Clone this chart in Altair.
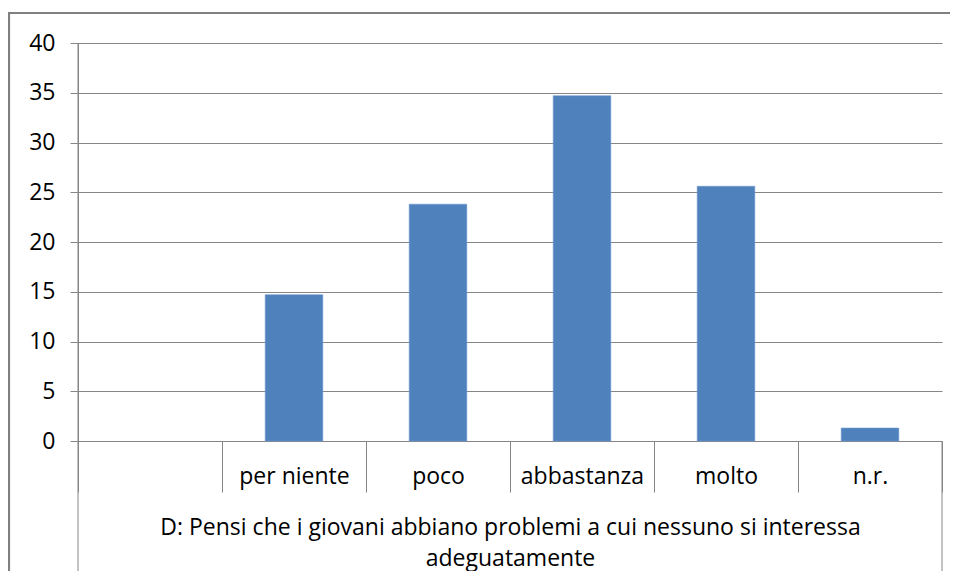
import altair as alt
import pandas as pd

# ---- data ----
categories = ["", "per niente", "poco", "abbastanza", "molto", "n.r."]
values = [None, 14.7, 23.8, 34.7, 25.6, 1.3]
y_ticks = [0, 5, 10, 15, 20, 25, 30, 35, 40]
axis_title = [
    "D: Pensi che i giovani abbiano problemi a cui nessuno si interessa",
    "adeguatamente",
]

df = pd.DataFrame({"categoria": categories, "valore": values})
one = pd.DataFrame({"k": [0]})

W, H = 864, 398
FONT = "Open Sans"
FS = 23
GRAY = "#868686"
BLUE = "#4F81BD"

x_enc = alt.X(
    "categoria:N",
    scale=alt.Scale(domain=categories, paddingInner=0, paddingOuter=0),
    axis=alt.Axis(
        title=axis_title,
        labelAngle=0,
        tickBand="extent",
        tickSize=51,
        tickColor=GRAY,
        tickWidth=1,
        domainColor=GRAY,
        domainWidth=1,
        labelPadding=-9,
        labelBaseline="alphabetic",
        labelFont=FONT,
        labelFontSize=FS,
        labelColor="#000000",
        titleFont=FONT,
        titleFontSize=FS,
        titleFontWeight="normal",
        titleColor="#000000",
        titleBaseline="alphabetic",
        titleLineHeight=31,
        titleY=93,
        titleAnchor="middle",
    ),
)

y_enc = alt.Y(
    "valore:Q",
    scale=alt.Scale(domain=[0, 40], nice=False),
    axis=alt.Axis(
        title=None,
        values=y_ticks,
        tickSize=8,
        tickColor=GRAY,
        domainColor=GRAY,
        labelPadding=15,
        labelFont=FONT,
        labelFontSize=FS,
        labelColor="#000000",
        grid=True,
        gridColor=GRAY,
        gridWidth=1,
    ),
)

bars = alt.Chart(df).mark_bar(
    color=BLUE, stroke="#6C98CF", strokeWidth=0.6, width=alt.RelativeBandSize(0.4)
).encode(x=x_enc, y=y_enc)

def rule(**kw):
    return alt.Chart(one).mark_rule(color=GRAY, strokeWidth=1).encode(**kw)

left_ext = rule(x=alt.value(0), y=alt.value(0), y2=alt.value(534))
right_ext = rule(x=alt.value(W), y=alt.value(H), y2=alt.value(534))
frame_left = alt.Chart(one).mark_rule(color="#808080", strokeWidth=2.2).encode(
    x=alt.value(-69), y=alt.value(-30), y2=alt.value(560))
frame_top = alt.Chart(one).mark_rule(color="#808080", strokeWidth=2.2).encode(
    x=alt.value(-70), x2=alt.value(900), y=alt.value(-30))

chart = (
    alt.layer(bars, left_ext, right_ext, frame_left, frame_top)
    .properties(
        width=W,
        height=H,
        autosize=alt.AutoSizeParams(type="none"),
        padding={"left": 70, "top": 35, "right": 8, "bottom": 130},
        background="white",
    )
    .configure_view(stroke=None)
)

chart.save("out.html", embed_options={"renderer": "svg", "actions": False})
